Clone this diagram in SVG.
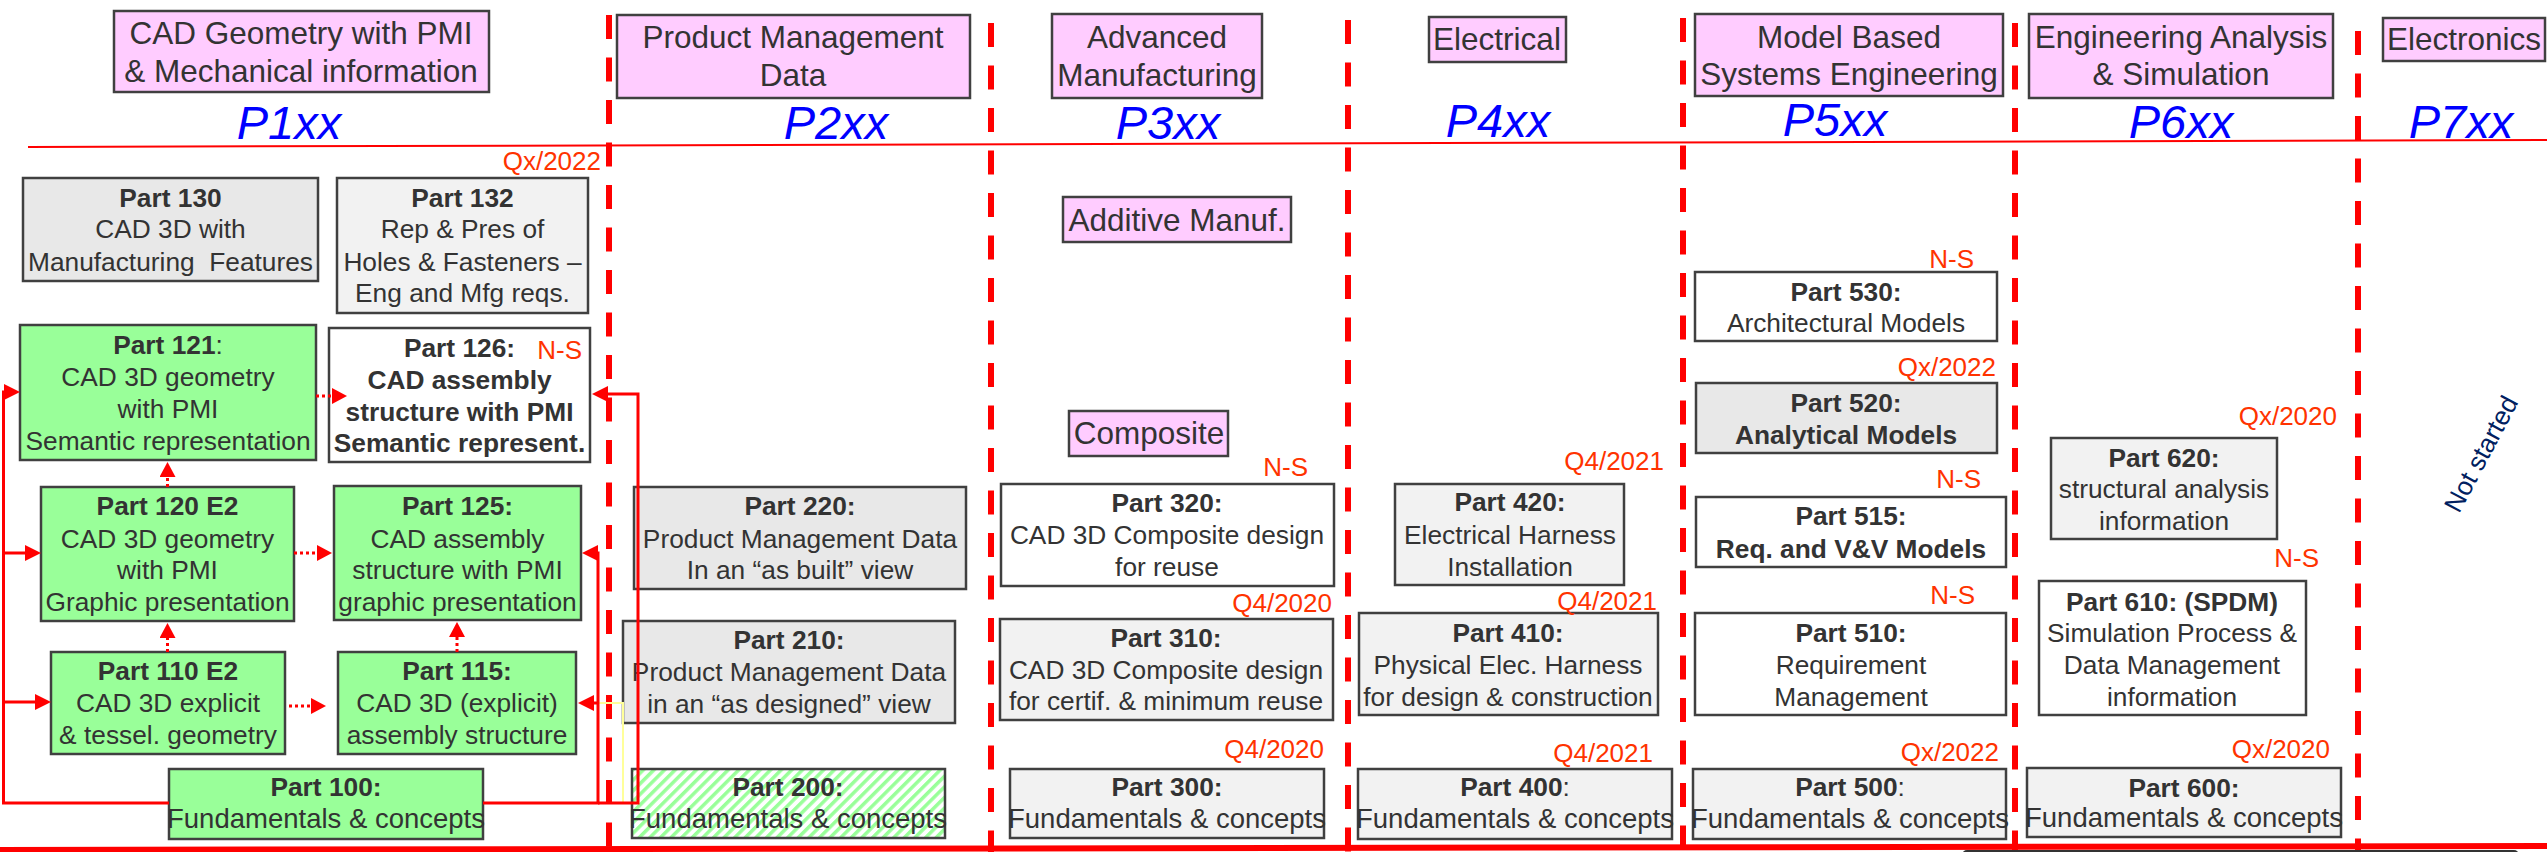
<svg xmlns="http://www.w3.org/2000/svg" width="2547" height="852" viewBox="0 0 2547 852">
<style>
text{font-family:"Liberation Sans",Arial,sans-serif;fill:#333;text-anchor:middle;font-size:26.3px}
.b{font-weight:bold}
.f{font-size:27.5px}
.h{font-size:31.5px}
.P{font-size:47px;font-style:italic;fill:#0000FF}
.d{font-size:26px;fill:#FF3300;text-anchor:end}
.n{fill:#002060;font-size:26px}
.bx{stroke:#404040;stroke-width:2.5}
.g{fill:#99FF99}.pk{fill:#FFCCFF}.l1{fill:#E8E8E8}.l2{fill:#F2F2F2}.w{fill:#FFFFFF}.ht{fill:url(#hatch)}
.sep{stroke:#FF0000;stroke-width:6;stroke-dasharray:24 18.5;fill:none}
.c{stroke:#FF0000;stroke-width:3;fill:none}
.dt{stroke-dasharray:3 3}
</style>
<defs>
<pattern id="hatch" width="7.5" height="7.5" patternUnits="userSpaceOnUse" patternTransform="rotate(45)">
<rect width="7.5" height="7.5" fill="#FFFFFF"/><rect width="3.5" height="7.5" fill="#99FF99"/>
</pattern>
<marker id="ah" markerUnits="userSpaceOnUse" markerWidth="16" markerHeight="16" refX="1" refY="8" orient="auto"><path d="M0,0 L16,8 L0,16 z" fill="#FF0000"/></marker>
<marker id="dh" markerUnits="userSpaceOnUse" markerWidth="16" markerHeight="16" refX="1" refY="8" orient="auto"><path d="M0,0 L15,8 L0,16 z" fill="#FF0000"/></marker>
</defs>
<rect width="2547" height="852" fill="#FFFFFF"/>

<g id="grid">
<line x1="28" y1="147" x2="2547" y2="140" stroke="#FF0000" stroke-width="2"/>
<line class="sep" x1="609" y1="15" x2="609" y2="852"/>
<line class="sep" x1="991" y1="23" x2="991" y2="852"/>
<line class="sep" x1="1348" y1="20" x2="1348" y2="852"/>
<line class="sep" x1="1683" y1="18" x2="1683" y2="852"/>
<line class="sep" x1="2015" y1="23" x2="2015" y2="852"/>
<line class="sep" x1="2358" y1="31" x2="2358" y2="852"/>
<line x1="0" y1="850" x2="2547" y2="846" stroke="#FF0000" stroke-width="6"/>
<rect x="1962" y="850" width="557" height="10" rx="5" fill="#333"/>
</g>

<g id="headers">
<g id="h1"><rect class="bx pk" x="114" y="11" width="375" height="81"/><text class="h" x="301" y="44">CAD Geometry with PMI</text><text class="h" x="301" y="82">&amp; Mechanical information</text><text class="P" x="289" y="139">P1xx</text></g>
<g id="h2"><rect class="bx pk" x="617" y="15" width="353" height="83"/><text class="h" x="793" y="48">Product Management</text><text class="h" x="793" y="86">Data</text><text class="P" x="836" y="139">P2xx</text></g>
<g id="h3"><rect class="bx pk" x="1052" y="14" width="210" height="84"/><text class="h" x="1157" y="48">Advanced</text><text class="h" x="1157" y="86">Manufacturing</text><text class="P" x="1168" y="139">P3xx</text></g>
<g id="h4"><rect class="bx pk" x="1429" y="17" width="137" height="45"/><text class="h" x="1497" y="50">Electrical</text><text class="P" x="1498" y="137">P4xx</text></g>
<g id="h5"><rect class="bx pk" x="1695" y="14" width="308" height="82"/><text class="h" x="1849" y="48">Model Based</text><text class="h" x="1849" y="85">Systems Engineering</text><text class="P" x="1835" y="136">P5xx</text></g>
<g id="h6"><rect class="bx pk" x="2029" y="14" width="304" height="84"/><text class="h" x="2181" y="48">Engineering Analysis</text><text class="h" x="2181" y="85">&amp; Simulation</text><text class="P" x="2181" y="138">P6xx</text></g>
<g id="h7"><rect class="bx pk" x="2383" y="18" width="162" height="43"/><text class="h" x="2464" y="50">Electronics</text><text class="P" x="2461" y="138">P7xx</text></g>
<g id="additive"><rect class="bx pk" x="1063" y="197" width="228" height="45"/><text class="h" x="1177" y="231">Additive Manuf.</text></g>
<g id="composite"><rect class="bx pk" x="1069" y="411" width="159" height="45"/><text class="h" x="1149" y="444">Composite</text></g>
<g id="notstarted"><text class="n" transform="translate(2481,454) rotate(-62)" x="0" y="9">Not started</text></g>
</g>

<g id="p130"><rect class="bx l1" x="23" y="178" width="295" height="103"/><text x="170.5" y="207" class="b">Part 130</text><text x="170.5" y="238">CAD 3D with</text><text x="170.5" y="271">Manufacturing&#160; Features</text></g>
<g id="p132"><rect class="bx l2" x="337" y="178" width="251" height="135"/><text x="462.5" y="207" class="b">Part 132</text><text x="462.5" y="238">Rep &amp; Pres of</text><text x="462.5" y="271">Holes &amp; Fasteners –</text><text x="462.5" y="302">Eng and Mfg reqs.</text><text class="d" x="601" y="170">Qx/2022</text></g>
<g id="p121"><rect class="bx g" x="20" y="325" width="296" height="135"/><text x="168" y="354"><tspan class="b">Part 121</tspan>:</text><text x="168" y="386">CAD 3D geometry</text><text x="168" y="418">with PMI</text><text x="168" y="450">Semantic representation</text></g>
<g id="p126"><rect class="bx w" x="329" y="328" width="261" height="134"/><text x="459.5" y="357" class="b">Part 126:</text><text x="459.5" y="389" class="b">CAD assembly</text><text x="459.5" y="421" class="b">structure with PMI</text><text x="459.5" y="452" class="b">Semantic represent.</text><text class="d" x="582" y="359">N-S</text></g>
<g id="p120"><rect class="bx g" x="41" y="487" width="253" height="134"/><text x="167.5" y="515" class="b">Part 120 E2</text><text x="167.5" y="548">CAD 3D geometry</text><text x="167.5" y="579">with PMI</text><text x="167.5" y="611">Graphic presentation</text></g>
<g id="p125"><rect class="bx g" x="334" y="486" width="247" height="134"/><text x="457.5" y="515" class="b">Part 125:</text><text x="457.5" y="548">CAD assembly</text><text x="457.5" y="579">structure with PMI</text><text x="457.5" y="611">graphic presentation</text></g>
<g id="p110"><rect class="bx g" x="51" y="652" width="234" height="102"/><text x="168" y="680" class="b">Part 110 E2</text><text x="168" y="712">CAD 3D explicit</text><text x="168" y="744">&amp; tessel. geometry</text></g>
<g id="p115"><rect class="bx g" x="338" y="652" width="238" height="102"/><text x="457" y="680" class="b">Part 115:</text><text x="457" y="712">CAD 3D (explicit)</text><text x="457" y="744">assembly structure</text></g>
<g id="p100"><rect class="bx g" x="169" y="769" width="314" height="70"/><text x="326" y="796" class="b">Part 100:</text><text x="326" y="828" class="f">Fundamentals &amp; concepts</text></g>

<g id="p220"><rect class="bx l1" x="634" y="487" width="332" height="102"/><text x="800" y="515" class="b">Part 220:</text><text x="800" y="548">Product Management Data</text><text x="800" y="579">In an “as built” view</text></g>
<g id="p210"><rect class="bx l1" x="623" y="621" width="332" height="102"/><text x="789" y="649" class="b">Part 210:</text><text x="789" y="681">Product Management Data</text><text x="789" y="713">in an “as designed” view</text></g>
<g id="p200"><rect class="bx ht" x="632" y="769" width="313" height="69"/><text x="788" y="796" class="b">Part 200:</text><text x="788" y="828" class="f">Fundamentals &amp; concepts</text></g>

<g id="p320"><rect class="bx w" x="1001" y="484" width="333" height="102"/><text x="1167" y="512" class="b">Part 320:</text><text x="1167" y="544">CAD 3D Composite design</text><text x="1167" y="576">for reuse</text><text class="d" x="1308" y="476">N-S</text></g>
<g id="p310"><rect class="bx l2" x="1000" y="619" width="333" height="101"/><text x="1166" y="647" class="b">Part 310:</text><text x="1166" y="679">CAD 3D Composite design</text><text x="1166" y="710">for certif. &amp; minimum reuse</text><text class="d" x="1332" y="612">Q4/2020</text></g>
<g id="p300"><rect class="bx l2" x="1010" y="769" width="314" height="69"/><text x="1167" y="796" class="b">Part 300:</text><text x="1167" y="828" class="f">Fundamentals &amp; concepts</text><text class="d" x="1324" y="758">Q4/2020</text></g>

<g id="p420"><rect class="bx l2" x="1395" y="484" width="229" height="101"/><text x="1510" y="511" class="b">Part 420:</text><text x="1510" y="544">Electrical Harness</text><text x="1510" y="576">Installation</text><text class="d" x="1664" y="470">Q4/2021</text></g>
<g id="p410"><rect class="bx l2" x="1359" y="613" width="299" height="102"/><text x="1508" y="642" class="b">Part 410:</text><text x="1508" y="674">Physical Elec. Harness</text><text x="1508" y="706">for design &amp; construction</text><text class="d" x="1657" y="610">Q4/2021</text></g>
<g id="p400"><rect class="bx l2" x="1358" y="769" width="314" height="70"/><text x="1515" y="796"><tspan class="b">Part 400</tspan>:</text><text x="1515" y="828" class="f">Fundamentals &amp; concepts</text><text class="d" x="1653" y="762">Q4/2021</text></g>

<g id="p530"><rect class="bx w" x="1695" y="272" width="302" height="69"/><text x="1846" y="301" class="b">Part 530:</text><text x="1846" y="332">Architectural Models</text><text class="d" x="1974" y="268">N-S</text></g>
<g id="p520"><rect class="bx l1" x="1696" y="383" width="301" height="70"/><text x="1846" y="412" class="b">Part 520:</text><text x="1846" y="444" class="b">Analytical Models</text><text class="d" x="1996" y="376">Qx/2022</text></g>
<g id="p515"><rect class="bx w" x="1696" y="497" width="310" height="70"/><text x="1851" y="525" class="b">Part 515:</text><text x="1851" y="558" class="b">Req. and V&amp;V Models</text><text class="d" x="1981" y="488">N-S</text></g>
<g id="p510"><rect class="bx w" x="1695" y="613" width="311" height="102"/><text x="1851" y="642" class="b">Part 510:</text><text x="1851" y="674">Requirement</text><text x="1851" y="706">Management</text><text class="d" x="1975" y="604">N-S</text></g>
<g id="p500"><rect class="bx l2" x="1693" y="769" width="313" height="70"/><text x="1850" y="796"><tspan class="b">Part 500</tspan>:</text><text x="1850" y="828" class="f">Fundamentals &amp; concepts</text><text class="d" x="1999" y="761">Qx/2022</text></g>

<g id="p620"><rect class="bx l2" x="2051" y="438" width="226" height="101"/><text x="2164" y="467" class="b">Part 620:</text><text x="2164" y="498">structural analysis</text><text x="2164" y="530">information</text><text class="d" x="2337" y="425">Qx/2020</text></g>
<g id="p610"><rect class="bx w" x="2039" y="581" width="267" height="134"/><text x="2172" y="611" class="b">Part 610: (SPDM)</text><text x="2172" y="642">Simulation Process &amp;</text><text x="2172" y="674">Data Management</text><text x="2172" y="706">information</text><text class="d" x="2319" y="567">N-S</text></g>
<g id="p600"><rect class="bx l2" x="2027" y="768" width="314" height="69"/><text x="2184" y="797" class="b">Part 600:</text><text x="2184" y="827" class="f">Fundamentals &amp; concepts</text><text class="d" x="2330" y="758">Qx/2020</text></g>

<g id="connectors">
<path d="M598,703 H623 V803" stroke="#FFFF99" stroke-width="2" fill="none"/>
<path class="c" d="M169,803 H3.5 V392 H5" marker-end="url(#ah)"/>
<path class="c" d="M3.5,553 H26" marker-end="url(#ah)"/>
<path class="c" d="M3.5,702 H36" marker-end="url(#ah)"/>
<path class="c" d="M483,803 H598 V553 H597" marker-end="url(#ah)"/>
<path class="c" d="M598,703 H593" marker-end="url(#ah)"/>
<path class="c" d="M598,803 H638 V394 H607" stroke-width="2.5" marker-end="url(#ah)"/>
<path class="c dt" d="M316,396 H333" marker-end="url(#dh)"/>
<path class="c dt" d="M294,553 H318" marker-end="url(#dh)"/>
<path class="c dt" d="M289,706 H312" marker-end="url(#dh)"/>
<path class="c dt" d="M167.5,487 V476" marker-end="url(#dh)"/>
<path class="c dt" d="M167.5,652 V637" marker-end="url(#dh)"/>
<path class="c dt" d="M457,652 V636" marker-end="url(#dh)"/>
</g>
</svg>
